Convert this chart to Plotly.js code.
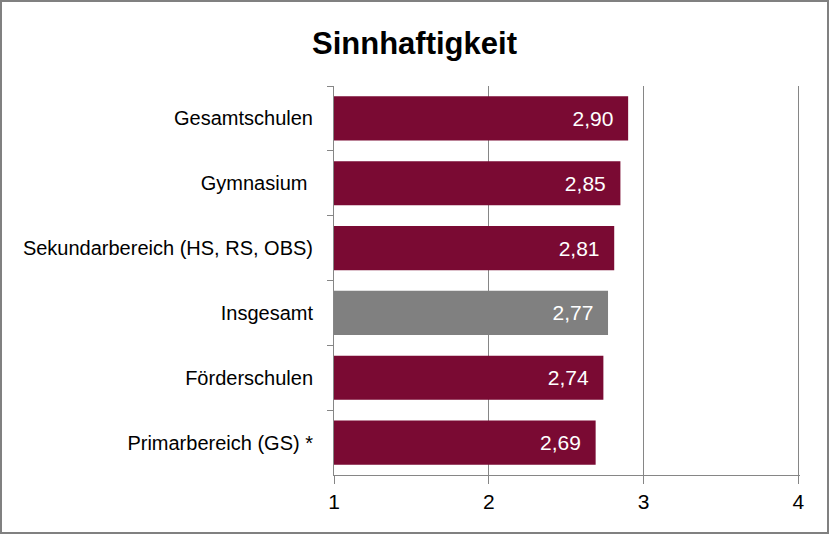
<!DOCTYPE html>
<html><head><meta charset="utf-8">
<script src="https://cdn.plot.ly/plotly-3.0.1.min.js"></script>
<style>
body{margin:0;padding:0;background:#fff;}
#wrap{position:relative;width:829px;height:534px;}
#chart{width:829px;height:534px;}
#frame{position:absolute;left:0;top:0;width:829px;height:534px;box-sizing:border-box;border:2px solid #808080;pointer-events:none;}
</style></head>
<body>
<div id="wrap"><div id="chart"></div><div id="frame"></div></div>
<script>
const categories = ["Gesamtschulen", "Gymnasium ", "Sekundarbereich (HS, RS, OBS)", "Insgesamt", "Förderschulen", "Primarbereich (GS) *"];
const values = [2.90, 2.85, 2.81, 2.77, 2.74, 2.69];
const barColors = ["#7A0A33", "#7A0A33", "#7A0A33", "#808080", "#7A0A33", "#7A0A33"];
const xTicks = [1, 2, 3, 4];

const font = "'Liberation Sans Narrow', 'Arial Narrow', 'Liberation Sans', Arial, sans-serif";
const labels = values.map(v => v.toFixed(2).replace('.', ',') + '  ');

Plotly.newPlot('chart', [{
  type: 'bar',
  orientation: 'h',
  y: categories,
  x: values.map(v => v - 1),
  base: 1,
  marker: {color: barColors},
  text: labels,
  textposition: 'inside',
  insidetextanchor: 'end',
  textfont: {family: font, size: 21, color: '#ffffff'},
  hoverinfo: 'none'
}], {
  width: 829, height: 534,
  margin: {l: 334, r: 29, t: 86, b: 59},
  paper_bgcolor: '#ffffff', plot_bgcolor: '#ffffff',
  showlegend: false,
  bargap: 0.32,
  title: {text: '<b>Sinnhaftigkeit</b>', x: 0.5, xanchor: 'center', y: 0.92, yanchor: 'middle',
          font: {family: font, size: 31, color: '#000000'}},
  xaxis: {
    range: [1, 4.01], tickvals: xTicks, ticktext: xTicks.map(String),
    showgrid: true, gridcolor: '#868686', gridwidth: 1,
    zeroline: false, showline: true, linecolor: '#868686', linewidth: 1,
    ticks: 'outside', ticklen: 8, tickcolor: '#868686',
    tickfont: {family: font, size: 21, color: '#000000'}
  },
  yaxis: {
    type: 'category', autorange: 'reversed',
    showgrid: false, zeroline: false, showline: true, linecolor: '#868686', linewidth: 1,
    ticks: 'outside', ticklen: 6, tickcolor: '#868686', tickson: 'boundaries',
    tickfont: {family: font, size: 20, color: '#000000'},
    ticklabelstandoff: 16
  }
}, {displayModeBar: false, staticPlot: true});
</script>
</body></html>
